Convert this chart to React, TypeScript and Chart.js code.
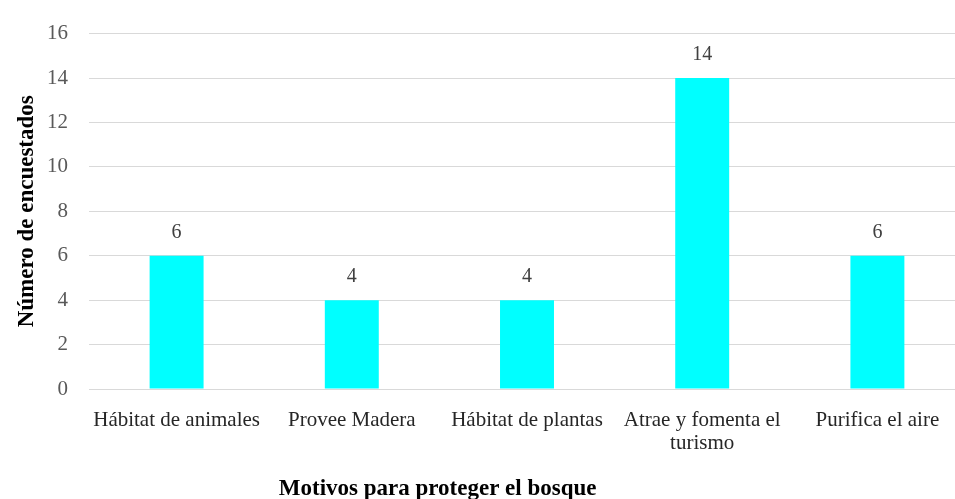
import React, { useEffect, useRef } from "react";
import { Chart, registerables } from "chart.js";

Chart.register(...registerables);

const categories: (string | string[])[] = [
  "Hábitat de animales",
  "Provee Madera",
  "Hábitat de plantas",
  ["Atrae y fomenta el", "turismo"],
  "Purifica el aire",
];
const values: number[] = [6, 4, 4, 14, 6];
const yTitle = "Número de encuestados";
const xTitle = "Motivos para proteger el bosque";

const FONT = "'Liberation Serif', 'Times New Roman', serif";

const labelsPlugin = {
  id: "customLabels",
  afterDatasetsDraw(chart: any) {
    const ctx = chart.ctx;
    const meta = chart.getDatasetMeta(0);
    ctx.save();
    ctx.font = `20px ${FONT}`;
    ctx.fillStyle = "#404040";
    ctx.textAlign = "center";
    ctx.textBaseline = "alphabetic";
    meta.data.forEach((bar: any, i: number) => {
      ctx.fillText(String(values[i]), bar.x, bar.y - 18);
    });
    ctx.restore();
  },
  afterDraw(chart: any) {
    const ctx = chart.ctx;
    const area = chart.chartArea;
    ctx.save();
    ctx.font = `bold 23px ${FONT}`;
    ctx.fillStyle = "#000000";
    ctx.textAlign = "center";
    ctx.textBaseline = "alphabetic";
    const tx = area.left + (area.right - area.left) * 0.398;
    ctx.fillText(xTitle, tx, chart.height - 4);
    ctx.translate(33, (area.top + area.bottom) / 2);
    ctx.rotate(-Math.PI / 2);
    ctx.fillText(yTitle, 0, 0);
    ctx.restore();
  },
};

export default function App() {
  const ref = useRef<HTMLCanvasElement | null>(null);
  useEffect(() => {
    document.body.style.margin = "0";
    const canvas = ref.current;
    if (!canvas) return;
    const chart = new Chart(canvas, {
      type: "bar",
      data: {
        labels: categories,
        datasets: [
          {
            data: values,
            backgroundColor: "#00FFFF",
            borderWidth: 0,
            categoryPercentage: 1,
            barPercentage: 0.308,
          },
        ],
      },
      options: {
        responsive: false,
        animation: false,
        devicePixelRatio: 1,
        layout: { padding: { top: 27, right: 1, bottom: 0, left: 0 } },
        plugins: {
          legend: { display: false },
          tooltip: { enabled: false },
          title: { display: false },
        },
        scales: {
          x: {
            grid: { display: false },
            border: { display: false },
            ticks: {
              color: "#262626",
              font: { family: FONT, size: 21, lineHeight: 1.1 },
              padding: 12,
              maxRotation: 0,
              autoSkip: false,
            },
            afterFit: (scale: any) => {
              scale.height = 110;
            },
          },
          y: {
            min: 0,
            max: 16,
            grid: { color: "#d9d9d9", lineWidth: 1, drawTicks: false },
            border: { display: false },
            ticks: {
              stepSize: 2,
              color: "#595959",
              font: { family: FONT, size: 21 },
              padding: 21,
            },
            afterFit: (scale: any) => {
              scale.width = 89;
            },
          },
        },
      },
      plugins: [labelsPlugin],
    });
    return () => chart.destroy();
  }, []);
  return (
    <div style={{ width: 955, height: 499, overflow: "hidden", position: "relative", background: "#fff" }}>
      <canvas ref={ref} width={966} height={499} style={{ display: "block" }} />
    </div>
  );
}
